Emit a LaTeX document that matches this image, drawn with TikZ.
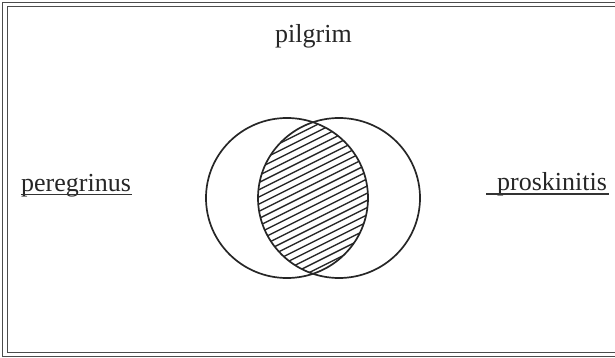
\documentclass[tikz,border=0pt]{standalone}
\usepackage{fontspec}
\setmainfont{Liberation Serif}
\usetikzlibrary{shapes.geometric}
\begin{document}
\begin{tikzpicture}[x=1pt,y=-1pt,
  lbl/.style={font=\fontsize{26}{30}\selectfont, text=black!85, inner sep=0pt},
  frame/.style={draw=black!70, line width=0.8pt},
  ring/.style={draw=black!85, line width=1.7pt},
  hatch/.style={draw=black!85, line width=1.35pt},
  uline/.style={draw=black!80, line width=1.1pt}]
\useasboundingbox (0,0) rectangle (615,358);
% double frame (right side cut off)
\draw[frame] (615,2) -| (2.5,356) -- (615,356);
\draw[frame] (615,6.5) -| (7.5,352) -- (615,352);
% labels
\node[lbl, anchor=base] (pil) at (313.5,43) {pilgrim};
\node[lbl, anchor=base west] (per) at (21,191) {peregrinus};
\node[lbl, anchor=base west] (pro) at (497,190) {proskinitis};
\coordinate (ps) at (486,194);
\draw[uline] ([yshift=-3.5pt]per.base west) -- ([yshift=-3.5pt,xshift=1pt]per.base east);
\draw[uline] (ps) -- ([yshift=-4pt,xshift=2pt]pro.base east);
% hatching of intersection
\begin{scope}
  \clip (287,198) ellipse [x radius=81pt, y radius=80pt];
  \clip (339,198) ellipse [x radius=81pt, y radius=80pt];
  \foreach \k in {0,...,42}{
    \draw[hatch] (240,{120+7.2*\k}) -- (390,{120+7.2*\k-150*0.5});
  }
\end{scope}
% circles
\node[ring, ellipse, minimum width=162pt, minimum height=160pt, inner sep=0pt] (lc) at (287,198) {};
\node[ring, ellipse, minimum width=162pt, minimum height=160pt, inner sep=0pt] (rc) at (339,198) {};
\end{tikzpicture}
\end{document}
